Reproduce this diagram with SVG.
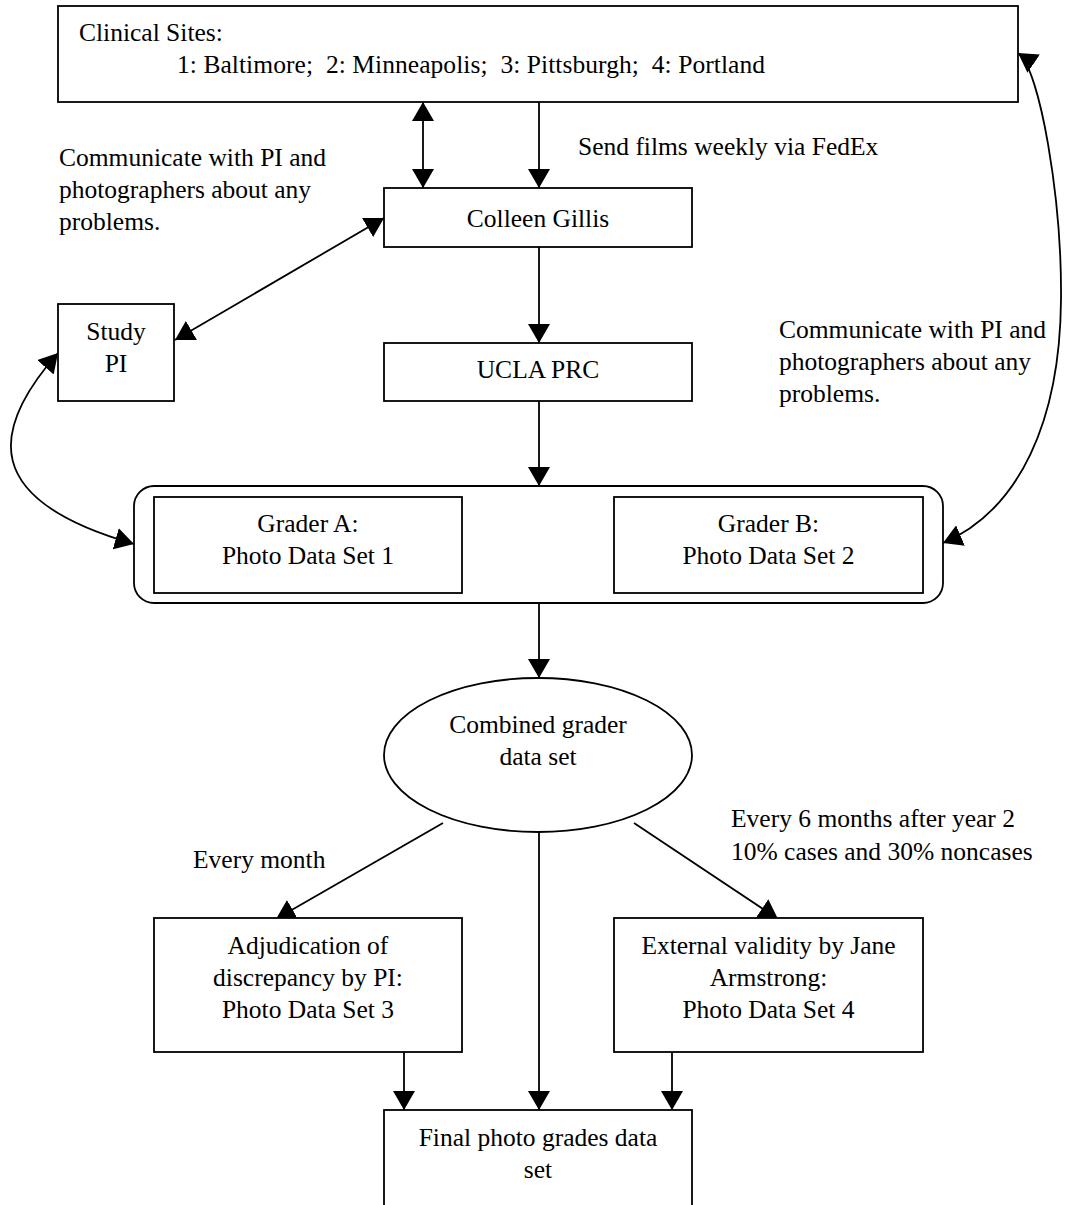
<svg xmlns="http://www.w3.org/2000/svg" width="1067" height="1205" viewBox="0 0 1067 1205" font-family="Liberation Serif, DejaVu Serif, serif">
<style>
  .box { fill: #fff; stroke: #000; stroke-width: 1.8; }
  .t { font-family: 'Liberation Serif', 'DejaVu Serif', serif; font-size: 25.5px; fill: #000; }
  .c { text-anchor: middle; }
  .edge { fill: none; stroke: #000; stroke-width: 1.8; }
</style>
<defs>
  <marker id="ah" markerUnits="userSpaceOnUse" viewBox="0 0 19 22" markerWidth="19" markerHeight="22" refX="19" refY="11" orient="auto-start-reverse">
    <path d="M0,0 L19,11 L0,22 z" fill="#000"/>
  </marker>
</defs>
<rect width="1067" height="1205" fill="#fff"/>

<g id="connectors">
  <line class="edge" x1="423" y1="102" x2="423" y2="188" marker-start="url(#ah)" marker-end="url(#ah)"/>
  <line class="edge" x1="539" y1="102" x2="539" y2="188" marker-end="url(#ah)"/>
  <line class="edge" x1="384" y1="218" x2="175" y2="340" marker-start="url(#ah)" marker-end="url(#ah)"/>
  <line class="edge" x1="539" y1="247" x2="539" y2="343" marker-end="url(#ah)"/>
  <line class="edge" x1="539" y1="401" x2="539" y2="486" marker-end="url(#ah)"/>
  <path class="edge" d="M58,353 C-10,430 -20,500 134,544" marker-start="url(#ah)" marker-end="url(#ah)"/>
  <path class="edge" d="M1018,53 C1040,68 1062,200 1061,300 C1060,420 1020,510 943,543" marker-start="url(#ah)" marker-end="url(#ah)"/>
  <line class="edge" x1="539" y1="603" x2="539" y2="678" marker-end="url(#ah)"/>
  <line class="edge" x1="443" y1="823" x2="276" y2="919" marker-end="url(#ah)"/>
  <line class="edge" x1="634" y1="823" x2="778" y2="919" marker-end="url(#ah)"/>
  <line class="edge" x1="539" y1="832" x2="539" y2="1110" marker-end="url(#ah)"/>
  <line class="edge" x1="404" y1="1052" x2="404" y2="1110" marker-end="url(#ah)"/>
  <line class="edge" x1="672" y1="1052" x2="672" y2="1110" marker-end="url(#ah)"/>
</g>

<g id="labels">
  <text class="t" x="578" y="155">Send films weekly via FedEx</text>
  <text class="t" x="59" y="166">Communicate with PI and</text>
  <text class="t" x="59" y="198">photographers about any</text>
  <text class="t" x="59" y="230">problems.</text>
  <text class="t" x="779" y="338">Communicate with PI and</text>
  <text class="t" x="779" y="370">photographers about any</text>
  <text class="t" x="779" y="402">problems.</text>
  <text class="t" x="193" y="868">Every month</text>
  <text class="t" x="731" y="827">Every 6 months after year 2</text>
  <text class="t" x="731" y="860">10% cases and 30% noncases</text>
</g>

<g id="clinical-sites">
  <rect class="box" x="58" y="6" width="960" height="96"/>
  <text class="t" x="79" y="41">Clinical Sites:</text>
  <text class="t" x="177" y="73" style="white-space:pre" textLength="588" lengthAdjust="spacing">1: Baltimore;  2: Minneapolis;  3: Pittsburgh;  4: Portland</text>
</g>

<g id="colleen-gillis">
  <rect class="box" x="384" y="188" width="308" height="59"/>
  <text class="t c" x="538" y="227">Colleen Gillis</text>
</g>

<g id="study-pi">
  <rect class="box" x="58" y="304" width="116" height="97"/>
  <text class="t c" x="116" y="340">Study</text>
  <text class="t c" x="116" y="372">PI</text>
</g>

<g id="ucla-prc">
  <rect class="box" x="384" y="343" width="308" height="58"/>
  <text class="t c" x="538" y="378">UCLA PRC</text>
</g>

<g id="graders">
  <rect class="box" x="134" y="486" width="809" height="117" rx="20" ry="20"/>
  <g id="grader-a">
    <rect class="box" x="154" y="497" width="308" height="96"/>
    <text class="t c" x="308" y="532">Grader A:</text>
    <text class="t c" x="308" y="564">Photo Data Set 1</text>
  </g>
  <g id="grader-b">
    <rect class="box" x="614" y="497" width="309" height="96"/>
    <text class="t c" x="768.5" y="532">Grader B:</text>
    <text class="t c" x="768.5" y="564">Photo Data Set 2</text>
  </g>
</g>

<g id="combined">
  <ellipse class="box" cx="538" cy="755" rx="154" ry="77"/>
  <text class="t c" x="538" y="733">Combined grader</text>
  <text class="t c" x="538" y="765">data set</text>
</g>

<g id="adjudication">
  <rect class="box" x="154" y="918" width="308" height="134"/>
  <text class="t c" x="308" y="954">Adjudication of</text>
  <text class="t c" x="308" y="986">discrepancy by PI:</text>
  <text class="t c" x="308" y="1018">Photo Data Set 3</text>
</g>

<g id="external">
  <rect class="box" x="614" y="918" width="309" height="134"/>
  <text class="t c" x="768.5" y="954">External validity by Jane</text>
  <text class="t c" x="768.5" y="986">Armstrong:</text>
  <text class="t c" x="768.5" y="1018">Photo Data Set 4</text>
</g>

<g id="final">
  <rect class="box" x="384" y="1110" width="308" height="120"/>
  <text class="t c" x="538" y="1146">Final photo grades data</text>
  <text class="t c" x="538" y="1178">set</text>
</g>
</svg>
